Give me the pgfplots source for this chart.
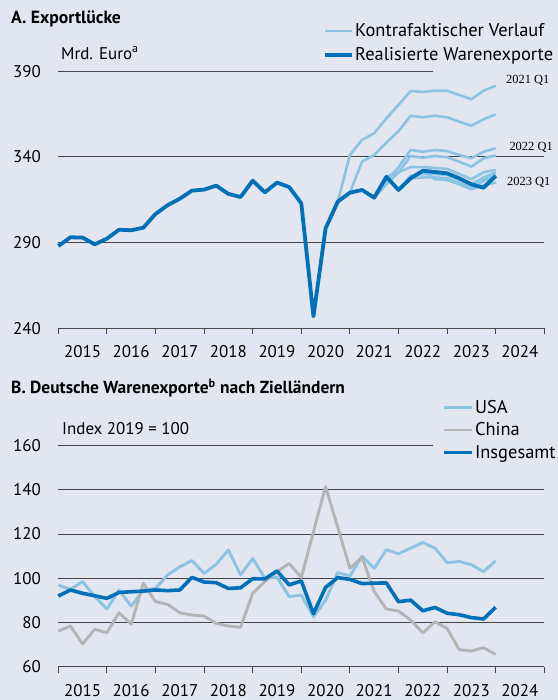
\documentclass[border=0pt]{standalone}
\usepackage{fontspec}
\setmainfont{PT Sans}
\newfontfamily\serifq{Liberation Serif}
\usepackage{pgfplots}
\pgfplotsset{compat=1.18}
\usepackage{pgfplotstable}
\definecolor{bg}{RGB}{225,230,240}
\definecolor{dblue}{RGB}{0,112,184}
\definecolor{lblue}{RGB}{141,195,226}
\definecolor{cgrey}{RGB}{180,180,180}
\definecolor{gridc}{RGB}{70,70,70}

\pgfplotstableread{
t real cfa cfb cfc cfd cfe cff cfg cfh cfi
2015.00 288.0 nan nan nan nan nan nan nan nan nan
2015.25 293.1 nan nan nan nan nan nan nan nan nan
2015.50 292.9 nan nan nan nan nan nan nan nan nan
2015.75 289.0 nan nan nan nan nan nan nan nan nan
2016.00 292.3 nan nan nan nan nan nan nan nan nan
2016.25 297.5 nan nan nan nan nan nan nan nan nan
2016.50 297.2 nan nan nan nan nan nan nan nan nan
2016.75 298.7 nan nan nan nan nan nan nan nan nan
2017.00 306.7 nan nan nan nan nan nan nan nan nan
2017.25 311.8 nan nan nan nan nan nan nan nan nan
2017.50 315.6 nan nan nan nan nan nan nan nan nan
2017.75 320.3 nan nan nan nan nan nan nan nan nan
2018.00 320.9 nan nan nan nan nan nan nan nan nan
2018.25 323.2 nan nan nan nan nan nan nan nan nan
2018.50 318.4 nan nan nan nan nan nan nan nan nan
2018.75 316.6 nan nan nan nan nan nan nan nan nan
2019.00 326.1 nan nan nan nan nan nan nan nan nan
2019.25 319.3 nan nan nan nan nan nan nan nan nan
2019.50 325.0 nan nan nan nan nan nan nan nan nan
2019.75 322.4 nan nan nan nan nan nan nan nan nan
2020.00 312.9 nan nan nan nan nan nan nan nan nan
2020.25 247.0 nan nan nan nan nan nan nan nan nan
2020.50 298.3 nan nan nan nan nan nan nan nan nan
2020.75 313.9 313.9 nan nan nan nan nan nan nan nan
2021.00 319.1 341.1 319.1 nan nan nan nan nan nan nan
2021.25 320.7 349.9 337.2 nan nan nan nan nan nan nan
2021.50 316.2 353.8 341.1 316.2 316.2 nan nan nan nan nan
2021.75 328.4 362.5 348.3 326.0 324.0 328.4 nan nan nan nan
2022.00 320.7 370.3 355.1 334.0 331.0 331.0 320.7 nan nan nan
2022.25 327.5 378.4 363.9 344.0 340.5 334.0 329.0 327.5 nan nan
2022.50 331.9 377.9 363.1 343.0 339.5 334.0 330.0 328.0 331.9 nan
2022.75 331.2 378.6 364.0 344.0 340.5 333.5 330.0 328.0 327.0 nan
2023.00 330.4 378.6 363.1 343.4 339.8 333.0 329.5 327.5 326.5 330.4
2023.25 327.5 376.1 360.5 341.1 337.2 330.0 327.0 325.0 324.0 327.0
2023.50 324.0 373.6 358.2 339.2 334.3 327.0 324.0 322.0 321.0 323.5
2023.75 322.0 378.6 361.9 343.0 339.2 331.0 328.0 326.0 323.5 327.0
2024.00 328.9 381.5 364.8 345.0 340.9 332.5 331.0 328.0 325.0 330.0
}\tabA

\pgfplotstableread{
t usa china total
2015.00 96.9 76.1 92.0
2015.25 95.0 78.4 94.7
2015.50 98.5 70.3 93.2
2015.75 91.7 76.9 92.1
2016.00 86.1 75.4 90.9
2016.25 94.7 84.4 93.6
2016.50 87.4 79.3 93.9
2016.75 94.7 97.7 94.2
2017.00 95.4 89.4 94.7
2017.25 101.5 88.2 94.4
2017.50 105.2 84.4 94.7
2017.75 108.0 83.4 100.4
2018.00 102.2 82.9 98.3
2018.25 106.4 79.6 98.0
2018.50 112.8 78.4 95.4
2018.75 101.5 77.8 95.7
2019.00 109.0 93.2 99.8
2019.25 100.0 98.5 99.7
2019.50 100.5 103.0 103.3
2019.75 91.7 106.7 97.0
2020.00 92.4 100.4 98.8
2020.25 82.6 121.0 84.0
2020.50 90.0 141.5 95.9
2020.75 102.6 123.0 100.3
2021.00 101.0 104.5 99.5
2021.25 110.0 109.5 97.6
2021.50 104.5 94.0 97.8
2021.75 112.9 86.1 97.9
2022.00 111.1 85.2 89.4
2022.25 113.6 81.1 90.1
2022.50 116.2 75.3 85.3
2022.75 113.6 80.3 86.8
2023.00 107.1 77.3 84.2
2023.25 107.6 67.7 83.5
2023.50 106.1 67.1 82.2
2023.75 103.0 68.6 81.6
2024.00 107.9 65.6 86.9
}\tabB

\pgfplotsset{
  panel/.style={
    scale only axis, width=486bp, clip=false,
    xmin=2015, xmax=2025,
    axis x line*=bottom, axis y line*=left,
    y axis line style={draw=none},
    x axis line style={draw=gridc, line width=1bp},
    xtick={2015,...,2025},
    xticklabels={2015,2016,2017,2018,2019,2020,2021,2022,2023,2024},
    x tick label as interval,
    tick align=outside, major tick length=6bp,
    xtick style={draw=gridc, line width=1bp},
    ytick style={draw=none},
    tick label style={font=\fontsize{17}{20}\selectfont, text=black},
    xticklabel style={yshift=-8bp},
    yticklabel style={anchor=east, xshift=-8bp},
    /pgf/number format/assume math mode=true,
    /pgf/number format/1000 sep={},
    legend image code/.code={\draw[#1] (0bp,0bp) -- (27bp,0bp);},
    legend cell align=left,
    every axis plot/.append style={line join=round},
  },
  gl/.style={gridc, line width=1bp, forget plot},
}

\begin{document}
\begin{tikzpicture}[font=\fontsize{17}{20}\selectfont]
\fill[bg] (0,0) rectangle (558bp,700bp);
\node[anchor=west, font=\fontsize{17.7}{20}\selectfont\bfseries, inner sep=0pt] at (11bp,680.7bp) {A. Exportlücke};
\node[anchor=west, font=\fontsize{17.5}{20}\selectfont\bfseries, inner sep=0pt] at (11bp,311.7bp) {B. Deutsche Warenexporte\textsuperscript{b} nach Zielländern};
\node[anchor=west, inner sep=0pt] at (61bp,647bp) {Mrd. Euro\textsuperscript{a}};
\node[anchor=west, inner sep=0pt] at (62bp,271bp) {Index 2019 = 100};

\begin{axis}[panel,
  at={(58.3bp,371.7bp)}, anchor=south west, height=265.7bp,
  ymin=240, ymax=395, ytick={240,290,340,390},
  legend style={at={(0.545,1.155)}, anchor=north west, draw=none, fill=none,
    font=\fontsize{18.5}{21}\selectfont, row sep=5.5bp, inner sep=0pt,
    nodes={inner xsep=1bp}},
]
\addplot[gl] coordinates {(2015,390) (2022.7,390)};
\addplot[gl] coordinates {(2015,340) (2025,340)};
\addplot[gl] coordinates {(2015,290) (2025,290)};
\addplot[lblue, line width=2.6bp] table[x=t,y=cfa] {\tabA};
\addlegendentry{Kontrafaktischer Verlauf}
\addplot[lblue, line width=2.6bp, forget plot] table[x=t,y=cfb] {\tabA};
\addplot[lblue, line width=2.6bp, forget plot] table[x=t,y=cfc] {\tabA};
\addplot[lblue, line width=2.6bp, forget plot] table[x=t,y=cfd] {\tabA};
\addplot[lblue, line width=2.6bp, forget plot] table[x=t,y=cfe] {\tabA};
\addplot[lblue, line width=2.6bp, forget plot] table[x=t,y=cff] {\tabA};
\addplot[lblue, line width=2.6bp, forget plot] table[x=t,y=cfg] {\tabA};
\addplot[lblue, line width=2.6bp, forget plot] table[x=t,y=cfh] {\tabA};
\addplot[lblue, line width=2.6bp, forget plot] table[x=t,y=cfi] {\tabA};
\addplot[dblue, line width=3.8bp] table[x=t,y=real] {\tabA};
\addlegendentry{Realisierte Warenexporte}
\node[anchor=west, font=\serifq\fontsize{12.5}{14}\selectfont, inner sep=0pt] at (axis cs:2024.21,384.7) {2021 Q1};
\node[anchor=west, font=\serifq\fontsize{12.5}{14}\selectfont, inner sep=0pt] at (axis cs:2024.28,345.5) {2022 Q1};
\node[anchor=west, font=\serifq\fontsize{12.5}{14}\selectfont, inner sep=0pt] at (axis cs:2024.23,325.2) {2023 Q1};
\end{axis}

\begin{axis}[panel,
  at={(58.3bp,33.3bp)}, anchor=south west, height=232.1bp,
  ymin=60, ymax=165, ytick={60,80,...,160},
  legend style={at={(0.79,1.158)}, anchor=north west, draw=none, fill=none,
    font=\fontsize{18.5}{21}\selectfont, row sep=4bp, inner sep=0pt,
    nodes={inner xsep=1bp}},
  legend image code/.code={\draw[#1] (0bp,0bp) -- (28bp,0bp);},
]
\addplot[gl] coordinates {(2015,160) (2022.7,160)};
\addplot[gl] coordinates {(2015,140) (2025,140)};
\addplot[gl] coordinates {(2015,120) (2025,120)};
\addplot[gl] coordinates {(2015,100) (2025,100)};
\addplot[gl] coordinates {(2015,80) (2025,80)};
\addplot[lblue, line width=2.9bp] table[x=t,y=usa] {\tabB};
\addlegendentry{USA}
\addplot[cgrey, line width=2.9bp] table[x=t,y=china] {\tabB};
\addlegendentry{China}
\addplot[dblue, line width=3.6bp] table[x=t,y=total] {\tabB};
\addlegendentry{Insgesamt}
\end{axis}
\pgfresetboundingbox
\useasboundingbox (0,0) rectangle (558bp,700bp);
\end{tikzpicture}
\end{document}
